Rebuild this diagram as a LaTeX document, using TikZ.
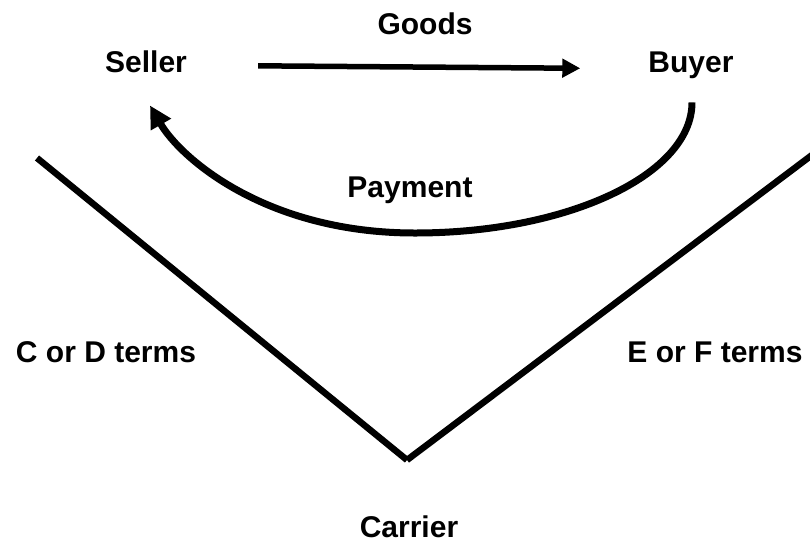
\documentclass[tikz,border=0pt]{standalone}
\usepackage{fontspec}
\setmainfont{Liberation Sans}
\usetikzlibrary{arrows.meta}

\begin{document}
\begin{tikzpicture}[x=1pt, y=1pt,
  lbl/.style={font=\bfseries\fontsize{30}{36}\selectfont, inner sep=0pt, anchor=base},
  goods/.style={line width=5.5pt, -{Triangle[length=18pt,width=18pt]}},
  pay/.style={line width=7pt, -{Triangle[length=22pt,width=22pt]}},
  vline/.style={line width=6.5pt}]
\useasboundingbox (0,0) rectangle (810,-544);
\node[lbl] (goodslbl) at (425,-34) {Goods};
\node[lbl] (seller) at (146,-72) {Seller};
\node[lbl] (buyer) at (691,-72) {Buyer};
\node[lbl] (paylbl) at (410,-197) {Payment};
\node[lbl] (cd) at (106,-362) {C or D terms};
\node[lbl] (ef) at (715,-362) {E or F terms};
\node[lbl] (carrier) at (409,-537) {Carrier};
% goods and payment
\draw[goods, shorten <=71pt, shorten >=68pt] ([yshift=-4pt]seller.east) -- ([yshift=-4pt]buyer.west);
\coordinate (low) at (415,-233);
\draw[pay] ([xshift=1pt,yshift=-24pt]buyer.south) to[out=-90, in=0, out distance=72pt, in distance=153pt] (low)
  to[out=180, in=-60, out distance=150pt, in distance=60pt] ([xshift=4pt,yshift=-33pt]seller.south);
% the V
\coordinate (vleft) at (37,-158);
\coordinate (apex) at (407,-460);
\coordinate (vright) at (812,-155);
\draw[vline] (vleft) -- (apex);
\draw[vline] (apex) -- (vright);
\end{tikzpicture}
\end{document}
